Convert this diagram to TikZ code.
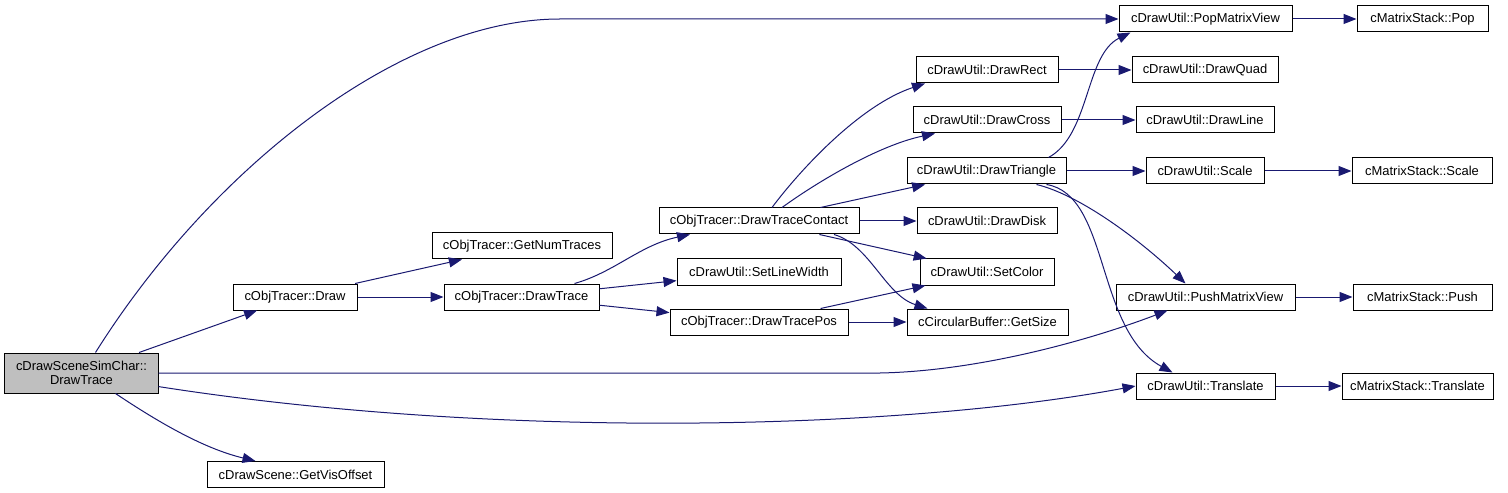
\documentclass[tikz,border=0pt]{standalone}
\usepackage{xcolor}
\usepackage{fontspec}
\setsansfont{Liberation Sans}
\usepackage{tikz}
\usetikzlibrary{arrows.meta,positioning,calc}
\definecolor{callblue}{RGB}{25,25,112}
\definecolor{rootgray}{RGB}{191,191,191}

\begin{document}
\begin{tikzpicture}[x=1bp, y=-1bp, font=\sffamily\fontsize{13}{14}\selectfont,
    fn/.style={rectangle, draw=black, line width=1bp, fill=white, inner sep=0pt, minimum height=26bp, align=center},
    call/.style={draw=callblue, line width=1bp, -{Triangle[length=13bp, width=10bp, fill=callblue]}}]
        \useasboundingbox (0,0) rectangle (1508,493);
        % root and first column
        \node[fn, fill=rootgray, minimum width=153bp, minimum height=40bp] (root) at (81.5,373) {cDrawSceneSimChar::\\DrawTrace};
        \node[fn, minimum width=124bp] (draw) at (295,297) {cObjTracer::Draw};
        \node[fn, minimum width=177bp] (visoff) at (295.5,474.5) {cDrawScene::GetVisOffset};
        \node[fn, minimum width=180bp] (numtr) at (522,246) {cObjTracer::GetNumTraces};
        \node[fn, minimum width=155bp] (trace) at (521.5,297) {cObjTracer::DrawTrace};
        % third column
        \node[fn, minimum width=200bp] (contact) at (759,221) {cObjTracer::DrawTraceContact};
        \node[fn, minimum width=164bp] (linew) at (759,272) {cDrawUtil::SetLineWidth};
        \node[fn, minimum width=178bp] (tracepos) at (759,322) {cObjTracer::DrawTracePos};
        % fourth column
        \node[fn, minimum width=142bp] (drect) at (987,70) {cDrawUtil::DrawRect};
        \node[fn, minimum width=148bp] (dcross) at (987,120) {cDrawUtil::DrawCross};
        \node[fn, minimum width=159bp] (dtri) at (986.5,171) {cDrawUtil::DrawTriangle};
        \node[fn, minimum width=140bp] (ddisk) at (987,221) {cDrawUtil::DrawDisk};
        \node[fn, minimum width=134bp] (scolor) at (987,272) {cDrawUtil::SetColor};
        \node[fn, minimum width=161bp] (getsize) at (987.5,322) {cCircularBuffer::GetSize};
        % fifth column
        \node[fn, minimum width=173bp] (popview) at (1205.5,19) {cDrawUtil::PopMatrixView};
        \node[fn, minimum width=146bp] (dquad) at (1205,70) {cDrawUtil::DrawQuad};
        \node[fn, minimum width=138bp] (dline) at (1205,120) {cDrawUtil::DrawLine};
        \node[fn, minimum width=118bp] (uscale) at (1205,171) {cDrawUtil::Scale};
        \node[fn, minimum width=179bp] (pushview) at (1205.5,297) {cDrawUtil::PushMatrixView};
        \node[fn, minimum width=139bp] (utrans) at (1205.5,386) {cDrawUtil::Translate};
        % matrix stack
        \node[fn, minimum width=131bp] (mpop) at (1422.5,19) {cMatrixStack::Pop};
        \node[fn, minimum width=140bp] (mscale) at (1422,171) {cMatrixStack::Scale};
        \node[fn, minimum width=139bp] (mpush) at (1422.5,297) {cMatrixStack::Push};
        \node[fn, minimum width=151bp] (mtrans) at (1417.5,386) {cMatrixStack::Translate};

        % calls from the root
        \draw[call] (root) -- (draw);
        \draw[call] ([xshift=34bp]root.south) .. controls (170,430) and (210,450) .. ([xshift=-40bp]visoff.north);
        \draw[call] ([xshift=14bp]root.north) .. controls (210,170) and (400,19) .. (560,19) -- (popview);
        \draw[call] (root.east) -- (880,373) .. controls (980,371) and (1090,340) .. ([xshift=-38bp]pushview.south);
        \draw[call] (root.-10) .. controls (500,440) and (900,430) .. (utrans.west);
        % tracer
        \draw[call] (draw) -- (numtr);
        \draw[call] (draw) -- (trace);
        \draw[call] ([xshift=53bp]trace.north) .. controls (615,272) and (640,245) .. ([xshift=-69bp]contact.south);
        \draw[call] (trace) -- (linew);
        \draw[call] (trace) -- (tracepos);
        \draw[call] ([xshift=13bp]contact.north) .. controls (800,170) and (860,105) .. ([xshift=-62bp]drect.south);
        \draw[call] ([xshift=23bp]contact.north) .. controls (820,180) and (880,145) .. ([xshift=-52bp]dcross.south);
        \draw[call] (contact) -- (dtri);
        \draw[call] (contact) -- (ddisk);
        \draw[call] (contact) -- (scolor);
        \draw[call] ([xshift=75bp]contact.south) .. controls (870,245) and (885,295) .. ([xshift=-60bp]getsize.north);
        \draw[call] (tracepos) -- (scolor);
        \draw[call] (tracepos) -- (getsize);
        % draw util
        \draw[call] (drect) -- (dquad);
        \draw[call] (dcross) -- (dline);
        \draw[call] (dtri) -- (uscale);
        \draw[call] ([xshift=62bp]dtri.north) .. controls (1090,135) and (1085,55) .. ([xshift=-75bp]popview.south);
        \draw[call] ([xshift=50bp]dtri.south) .. controls (1080,195) and (1140,240) .. ([xshift=-20bp]pushview.north);
        \draw[call] ([xshift=60bp]dtri.south) .. controls (1110,195) and (1095,330) .. ([xshift=-33bp]utrans.north);
        % matrix stack
        \draw[call] (popview) -- (mpop);
        \draw[call] (uscale) -- (mscale);
        \draw[call] (pushview) -- (mpush);
        \draw[call] (utrans) -- (mtrans);
      \end{tikzpicture}
\end{document}
